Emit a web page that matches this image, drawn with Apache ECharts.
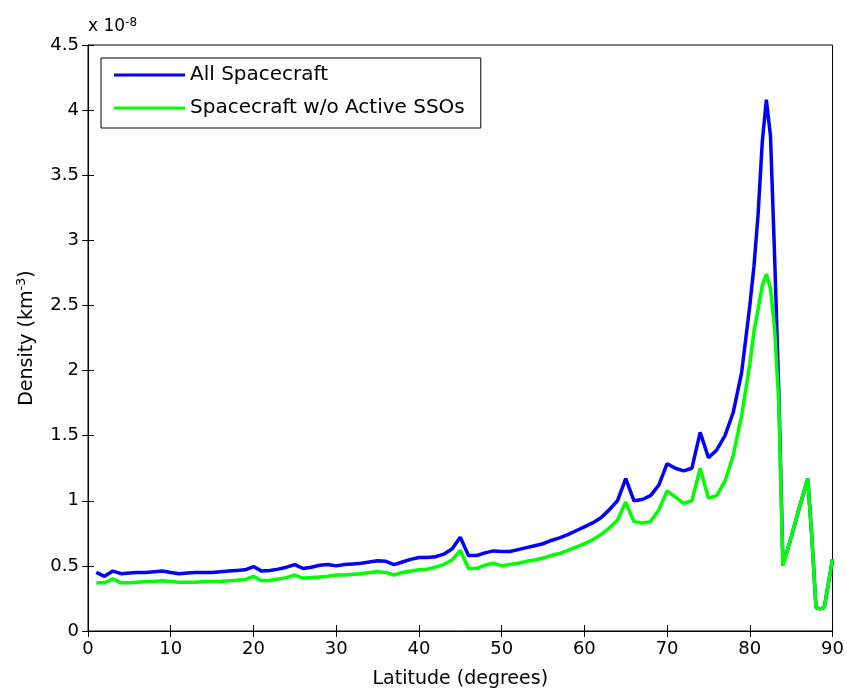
<!DOCTYPE html>
<html>
<head>
<meta charset="utf-8">
<script src="https://cdn.jsdelivr.net/npm/echarts@6/dist/echarts.min.js"></script>
<style>html,body{margin:0;padding:0;background:#fff}#c{width:847px;height:696px}</style>
</head>
<body>
<div id="c"></div>
<script>
const latitudes = [1,2,3,4,5,6,7,8,9,10,11,12,13,14,15,16,17,18,19,20,21,22,23,24,25,26,27,28,29,30,
31,32,33,34,35,36,37,38,39,40,41,42,43,44,45,46,47,48,49,50,51,52,53,54,55,56,57,58,59,60,
61,62,63,64,65,66,67,68,69,70,71,72,73,74,75,76,77,78,79,80,80.5,81,81.5,82,82.5,83,83.5,84,84.5,85,86,87,87.5,88,88.5,89,90];
const allSpacecraft = [0.45,0.42,0.46,0.44,0.445,0.45,0.45,0.455,0.46,0.45,0.44,0.445,0.45,0.45,0.45,0.455,0.46,0.465,0.47,0.495,
0.46,0.465,0.475,0.49,0.51,0.48,0.49,0.505,0.51,0.5,0.51,0.515,0.52,0.53,0.54,0.535,0.51,0.53,0.55,0.565,
0.565,0.57,0.59,0.63,0.72,0.58,0.58,0.6,0.615,0.61,0.61,0.625,0.64,0.655,0.67,0.695,0.715,0.74,0.77,0.8,
0.83,0.87,0.93,1.0,1.17,1.0,1.01,1.04,1.12,1.285,1.25,1.23,1.25,1.525,1.33,1.39,1.5,1.68,1.98,2.5,
2.8,3.2,3.75,4.08,3.8,2.87,1.85,0.52,0.61,0.72,0.95,1.17,0.72,0.18,0.17,0.18,0.55];
const withoutActiveSSOs = [0.37,0.37,0.40,0.37,0.37,0.375,0.38,0.38,0.385,0.38,0.375,0.375,0.375,0.38,0.38,0.38,0.385,0.39,0.395,0.42,
0.385,0.39,0.40,0.41,0.43,0.405,0.41,0.415,0.42,0.43,0.43,0.435,0.44,0.45,0.455,0.45,0.43,0.45,0.46,0.47,
0.475,0.49,0.51,0.545,0.62,0.48,0.48,0.505,0.52,0.5,0.51,0.52,0.535,0.545,0.56,0.58,0.595,0.62,0.645,0.67,
0.70,0.74,0.79,0.85,0.99,0.84,0.83,0.84,0.93,1.075,1.03,0.98,1.0,1.25,1.02,1.04,1.15,1.35,1.65,2.05,
2.3,2.47,2.65,2.74,2.63,2.32,1.75,0.5,0.61,0.72,0.95,1.17,0.72,0.18,0.17,0.18,0.55];
const xTicks = {min: 0, max: 90, interval: 10};
const yTicks = {min: 0, max: 4.5, interval: 0.5};

const font = 'DejaVu Sans';
const chart = echarts.init(document.getElementById('c'));
const axisCommon = {
  axisLine: {show: true, lineStyle: {color: '#000', width: 1}},
  axisTick: {show: true, inside: true, length: 6, lineStyle: {color: '#000'}},
  splitLine: {show: false}
};
chart.setOption({
  animation: false,
  backgroundColor: '#fff',
  grid: {left: 88, right: 14, top: 45, bottom: 65, show: true, borderColor: '#000', borderWidth: 1, containLabel: false},
  xAxis: [
    Object.assign({type: 'value', position: 'bottom', min: xTicks.min, max: xTicks.max, interval: xTicks.interval,
      name: 'Latitude (degrees)', nameLocation: 'middle', nameGap: 39,
      nameTextStyle: {fontFamily: font, fontSize: 19, color: '#000'},
      axisLabel: {fontFamily: font, fontSize: 18, color: '#000', margin: 9}}, axisCommon),
    Object.assign({type: 'value', position: 'top', min: xTicks.min, max: xTicks.max, interval: xTicks.interval,
      axisLabel: {show: false}}, axisCommon)
  ],
  yAxis: [
    Object.assign({type: 'value', position: 'left', min: yTicks.min, max: yTicks.max, interval: yTicks.interval,
      name: 'Density (km{sup|-3})', nameLocation: 'middle', nameGap: 48, nameRotate: 90,
      nameTextStyle: {fontFamily: font, fontSize: 19, color: '#000', lineHeight: 24,
        rich: {sup: {fontFamily: font, fontSize: 13, color: '#000', verticalAlign: 'top', lineHeight: 24, padding: [0,0,10,0]}}},
      axisLabel: {fontFamily: font, fontSize: 18, color: '#000', margin: 9}}, axisCommon),
    Object.assign({type: 'value', position: 'right', min: yTicks.min, max: yTicks.max, interval: yTicks.interval,
      axisLabel: {show: false}}, axisCommon)
  ],
  legend: {
    orient: 'vertical', left: 101, top: 58,
    padding: [6, 16, 9, 13], itemGap: 11,
    itemWidth: 71, itemHeight: 3, icon: 'rect',
    borderColor: '#000', borderWidth: 1, backgroundColor: '#fff',
    textStyle: {fontFamily: font, fontSize: 20, color: '#000', lineHeight: 22},
    data: ['All Spacecraft', 'Spacecraft w/o Active SSOs']
  },
  graphic: [{
    type: 'text', left: 88, top: 17,
    style: {text: 'x 10{sup|-8}', fontFamily: font, fontSize: 17, fill: '#000',
      rich: {sup: {fontFamily: font, fontSize: 12, fill: '#000', verticalAlign: 'top', padding: [0,0,8,0]}}}
  }],
  series: [
    {name: 'All Spacecraft', type: 'line', symbol: 'none', smooth: false,
      color: '#0000ff', lineStyle: {color: '#0000ff', width: 3.5},
      data: latitudes.map((x, i) => [x, allSpacecraft[i]])},
    {name: 'Spacecraft w/o Active SSOs', type: 'line', symbol: 'none', smooth: false,
      color: '#00ff00', lineStyle: {color: '#00ff00', width: 3.5},
      data: latitudes.map((x, i) => [x, withoutActiveSSOs[i]])}
  ]
});
</script>
</body>
</html>
